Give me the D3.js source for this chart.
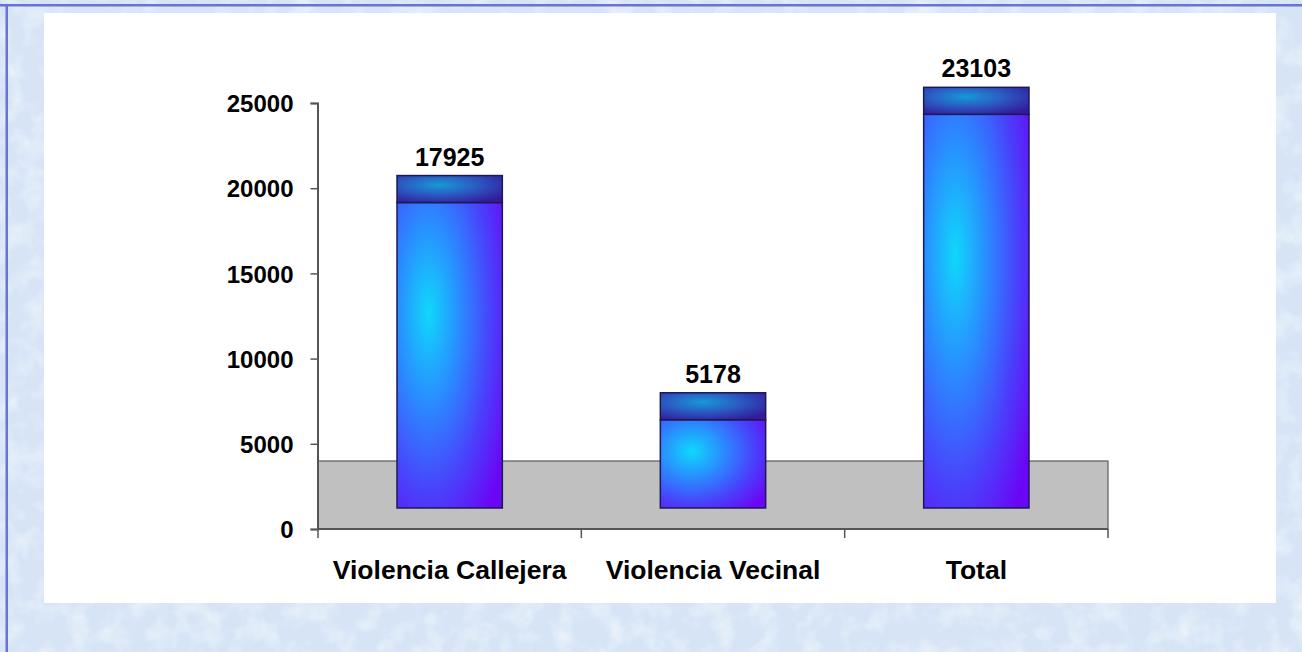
<!DOCTYPE html>
<html>
<head>
<meta charset="utf-8">
<script src="https://cdn.jsdelivr.net/npm/d3@7"></script>
<style>
  html, body { margin: 0; padding: 0; background: #dde8f6; }
  svg { display: block; }
  text { font-family: Arial, "Liberation Sans", sans-serif; font-weight: bold; fill: #000; }
</style>
</head>
<body>
<svg id="chart" width="1302" height="652"></svg>
<script>
// ---- data ----
const categories = ["Violencia Callejera", "Violencia Vecinal", "Total"];
const values = [17925, 5178, 23103];
const yTicks = [0, 5000, 10000, 15000, 20000, 25000];

(function () {
const W = 1302, H = 652;
const svg = d3.select("#chart");
const defs = svg.append("defs");

// background texture
const turb = defs.append("filter").attr("id", "mottle").attr("x", 0).attr("y", 0).attr("width", 1).attr("height", 1);
turb.append("feTurbulence").attr("type", "fractalNoise").attr("baseFrequency", "0.045").attr("numOctaves", 3).attr("seed", 7).attr("result", "n");
turb.append("feColorMatrix").attr("in", "n").attr("type", "matrix")
  .attr("values", "0 0 0 0 1  0 0 0 0 1  0 0 0 0 1  0 0 0 1.1 -0.45").attr("result", "m");
turb.append("feComposite").attr("in", "m").attr("in2", "SourceGraphic").attr("operator", "in");

svg.append("rect").attr("width", W).attr("height", H).attr("fill", "#d6e4f6");
svg.append("rect").attr("width", W).attr("height", H).attr("fill", "#ffffff").attr("opacity", 0.9).attr("filter", "url(#mottle)");

// frame lines
svg.append("rect").attr("x", 0).attr("y", 4).attr("width", W).attr("height", 2.5).attr("fill", "#6b72d6");
svg.append("rect").attr("x", 5.5).attr("y", 4).attr("width", 2.5).attr("height", H).attr("fill", "#6b72d6");

// white plot panel
svg.append("rect").attr("x", 44).attr("y", 13).attr("width", 1232).attr("height", 590).attr("fill", "#ffffff");

// gradients
const frontG = defs.append("radialGradient").attr("id", "frontGrad")
  .attr("cx", "0.3").attr("cy", "0.36").attr("r", "0.85").attr("fx", "0.3").attr("fy", "0.36");
frontG.append("stop").attr("offset", "0").attr("stop-color", "#0fd8fa");
frontG.append("stop").attr("offset", "0.35").attr("stop-color", "#2a8cff");
frontG.append("stop").attr("offset", "0.7").attr("stop-color", "#4a40fb");
frontG.append("stop").attr("offset", "1").attr("stop-color", "#6a06f6");

const topG = defs.append("radialGradient").attr("id", "topGrad")
  .attr("cx", "0.4").attr("cy", "0.35").attr("r", "0.75").attr("fx", "0.4").attr("fy", "0.35");
topG.append("stop").attr("offset", "0").attr("stop-color", "#169ad6");
topG.append("stop").attr("offset", "0.45").attr("stop-color", "#2a5ec4");
topG.append("stop").attr("offset", "1").attr("stop-color", "#34199a");

// scales
const x0 = 318, x1 = 1108;
const y = d3.scaleLinear().domain([0, 25000]).range([529, 103]);
const x = d3.scaleBand().domain(categories).range([x0, x1]).paddingInner(0.6).paddingOuter(0.3);

const floorDepth = 68, barFront = 21, barBack = 48;

// floor
svg.append("rect")
  .attr("x", x0).attr("y", y(0) - floorDepth)
  .attr("width", x1 - x0).attr("height", floorDepth)
  .attr("fill", "#c0c0c0").attr("stroke", "#5a5a5a").attr("stroke-width", 1.2);

// y axis
const yAxis = d3.axisLeft(y).tickValues(yTicks).tickSize(7).tickFormat(d3.format("d"));
const gy = svg.append("g").attr("transform", `translate(${x0 - 0.5},0)`).call(yAxis);
gy.select(".domain").attr("stroke", "#555").attr("stroke-width", 2);
gy.selectAll(".tick line").attr("stroke", "#555").attr("stroke-width", 1.5);
gy.selectAll(".tick text").attr("x", -24).attr("dy", "0.36em")
  .style("font-size", "24px").style("font-family", "Arial, 'Liberation Sans', sans-serif")
  .style("font-weight", "bold").attr("fill", "#000");

// x axis
const xEdges = [x0].concat(categories.map(c => x(c) + x.bandwidth() + x.step() * 0.3));
const gx = svg.append("g");
gx.append("line").attr("x1", x0 - 1).attr("x2", x1).attr("y1", y(0)).attr("y2", y(0))
  .attr("stroke", "#555").attr("stroke-width", 2);
gx.selectAll("line.xt").data(xEdges).join("line").attr("class", "xt")
  .attr("x1", d => d).attr("x2", d => d).attr("y1", y(0)).attr("y2", y(0) + 9)
  .attr("stroke", "#555").attr("stroke-width", 1.5);
gx.selectAll("text.cat").data(categories).join("text").attr("class", "cat")
  .attr("x", d => x(d) + x.bandwidth() / 2).attr("y", 579)
  .attr("text-anchor", "middle").style("font-size", "26.5px")
  .text(d => d);

// bars
const bars = svg.append("g").selectAll("g.bar").data(values.map((v, i) => ({ v, c: categories[i] }))).join("g").attr("class", "bar");
bars.append("rect")
  .attr("x", d => x(d.c)).attr("y", d => y(d.v) - barFront)
  .attr("width", x.bandwidth()).attr("height", d => y(0) - y(d.v))
  .attr("fill", "url(#frontGrad)").attr("stroke", "#1c1a55").attr("stroke-width", 1.5);
bars.append("rect")
  .attr("x", d => x(d.c)).attr("y", d => y(d.v) - barBack)
  .attr("width", x.bandwidth()).attr("height", barBack - barFront)
  .attr("fill", "url(#topGrad)").attr("stroke", "#1c1a55").attr("stroke-width", 1.5);
bars.append("text")
  .attr("x", d => x(d.c) + x.bandwidth() / 2).attr("y", d => y(d.v) - barBack - 10)
  .attr("text-anchor", "middle").style("font-size", "25px")
  .text(d => d.v);
})();
</script>
</body>
</html>
